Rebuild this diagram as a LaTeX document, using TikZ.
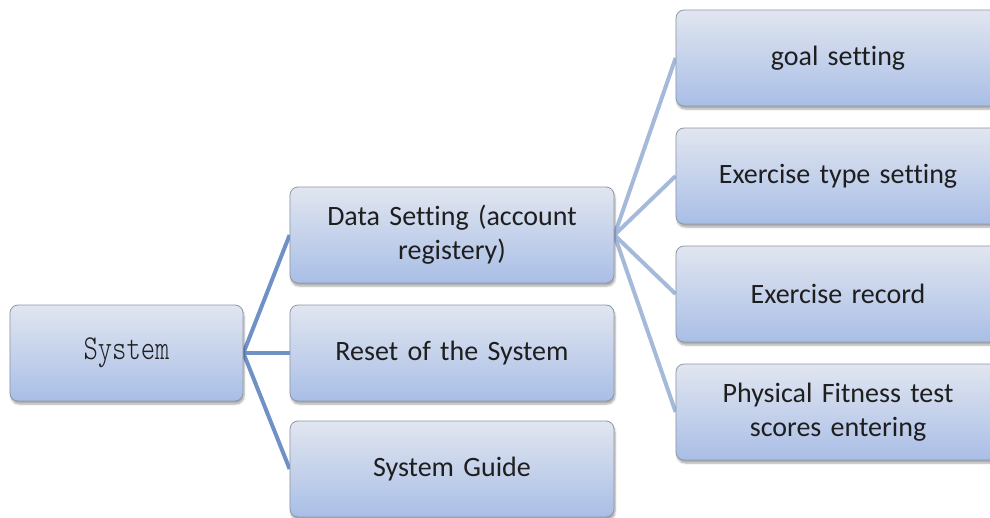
\documentclass[tikz,border=0pt]{standalone}
\usepackage{fontspec}
\setmainfont[Ligatures={NoCommon}]{Carlito}
\newfontfamily\sysfont[FakeStretch=0.78]{lmmonolt10-regular.otf}
\usetikzlibrary{shadows.blur,backgrounds}
\definecolor{boxtop}{HTML}{E1E6F0}
\definecolor{boxbot}{HTML}{A9BEE6}
\definecolor{boxline}{HTML}{8C97A8}
\definecolor{linkdark}{HTML}{7091C6}
\definecolor{linklight}{HTML}{A5B9DB}
\definecolor{txt}{HTML}{1E1E1E}
\tikzset{
  card/.style={draw=boxline, line width=0.8pt, rounded corners=8pt,
    top color=boxtop, bottom color=boxbot, text=txt,
    minimum height=96pt, inner sep=0pt, align=center,
    font=\fontsize{28}{34}\selectfont,
    blur shadow={shadow xshift=1pt, shadow yshift=-3pt, shadow blur steps=6, shadow opacity=35}},
  rootcard/.style={card, minimum width=233pt, font=\sysfont\fontsize{35}{38}\selectfont},
  midcard/.style={card, minimum width=324pt, text width=300pt},
  leafcard/.style={card, minimum width=324pt, text width=300pt},
  darklink/.style={draw=linkdark, line width=4pt},
  lightlink/.style={draw=linklight, line width=4pt}
}
\begin{document}
\begin{tikzpicture}[x=1pt,y=-1pt]
\useasboundingbox (0,0) rectangle (990,517);
\begin{scope}
\clip (0,0) rectangle (990,517);
\node[rootcard] (sys) at (126.5,353) {System};
\node[midcard] (data) at (452,235) {Data Setting (account\\registery)};
\node[midcard] (reset) at (452,353) {Reset of the System};
\node[midcard] (guide) at (452,469) {System Guide};
\node[leafcard] (goal) at (838,58) {goal setting};
\node[leafcard] (type) at (838,176) {Exercise type setting};
\node[leafcard] (rec) at (838,294) {Exercise record};
\node[leafcard] (fit) at (838,412) {Physical Fitness test\\scores entering};
\begin{pgfonlayer}{background}
\draw[darklink] (sys.east) -- (data.west);
\draw[darklink] (sys.east) -- (reset.west);
\draw[darklink] (sys.east) -- (guide.west);
\draw[lightlink] (data.east) -- (goal.west);
\draw[lightlink] (data.east) -- (type.west);
\draw[lightlink] (data.east) -- (rec.west);
\draw[lightlink] (data.east) -- (fit.west);
\end{pgfonlayer}
\end{scope}
\end{tikzpicture}
\end{document}
